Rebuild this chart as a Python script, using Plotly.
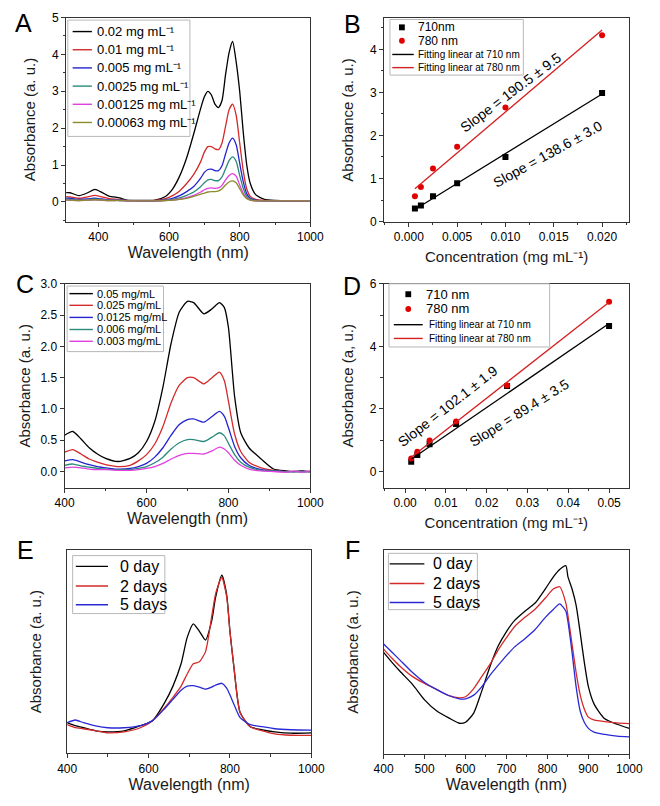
import plotly.graph_objects as go

FW, FH = 660, 806
FONT = "Liberation Sans, Arial, Helvetica, sans-serif"

# ---------------- Panel A: spectra at different concentrations ----------------
wl_a = [300, 320, 345, 370, 390, 410, 430, 460, 480, 520, 560, 590, 610, 630, 650, 670, 690, 700,
        710, 720, 730, 740, 750, 760, 770, 780, 790, 800, 810, 820, 830, 845, 870, 900, 950, 1000]
a_0p02 = [0.25, 0.25, 0.17, 0.25, 0.34, 0.26, 0.16, 0.11, 0.05, 0.04, 0.05, 0.15, 0.35, 0.70, 1.20, 1.85, 2.55, 2.85,
          3.00, 2.90, 2.65, 2.56, 2.75, 3.45, 4.05, 4.35, 3.80, 3.00, 1.90, 1.00, 0.50, 0.20, 0.07, 0.04, 0.03, 0.03]
a_0p01 = [0.15, 0.14, 0.10, 0.14, 0.18, 0.14, 0.09, 0.07, 0.04, 0.03, 0.04, 0.09, 0.17, 0.30, 0.50, 0.75, 1.10, 1.35,
          1.50, 1.50, 1.44, 1.42, 1.60, 2.05, 2.50, 2.65, 2.35, 1.60, 0.85, 0.35, 0.15, 0.07, 0.04, 0.03, 0.03, 0.03]
a_0p005 = [0.10, 0.10, 0.07, 0.08, 0.10, 0.08, 0.06, 0.05, 0.04, 0.03, 0.03, 0.06, 0.10, 0.17, 0.28, 0.42, 0.65, 0.80,
           0.88, 0.89, 0.85, 0.85, 0.98, 1.30, 1.60, 1.73, 1.55, 1.05, 0.55, 0.22, 0.10, 0.05, 0.03, 0.03, 0.03, 0.03]
a_0p0025 = [0.07, 0.07, 0.05, 0.06, 0.08, 0.06, 0.05, 0.04, 0.04, 0.03, 0.03, 0.05, 0.07, 0.11, 0.18, 0.27, 0.42, 0.52,
            0.60, 0.61, 0.58, 0.58, 0.68, 0.90, 1.12, 1.22, 1.10, 0.72, 0.37, 0.15, 0.07, 0.04, 0.03, 0.03, 0.03, 0.03]
a_0p00125 = [0.05, 0.05, 0.04, 0.05, 0.06, 0.05, 0.04, 0.04, 0.03, 0.03, 0.03, 0.04, 0.05, 0.08, 0.12, 0.18, 0.27, 0.33,
             0.37, 0.38, 0.37, 0.38, 0.45, 0.60, 0.72, 0.77, 0.70, 0.46, 0.24, 0.10, 0.05, 0.03, 0.03, 0.03, 0.03, 0.03]
a_0p00063 = [0.05, 0.05, 0.04, 0.05, 0.06, 0.05, 0.04, 0.04, 0.03, 0.03, 0.03, 0.04, 0.05, 0.07, 0.10, 0.15, 0.21, 0.24,
             0.27, 0.28, 0.28, 0.30, 0.36, 0.46, 0.54, 0.57, 0.52, 0.36, 0.19, 0.09, 0.05, 0.03, 0.03, 0.03, 0.03, 0.03]
a_series = [a_0p02, a_0p01, a_0p005, a_0p0025, a_0p00125, a_0p00063]
a_labels = ["0.02 mg mL⁻¹", "0.01 mg mL⁻¹", "0.005 mg mL⁻¹",
            "0.0025 mg mL⁻¹", "0.00125 mg mL⁻¹", "0.00063 mg mL⁻¹"]
a_colors = ["#000000", "#d42a2a", "#2424d0", "#2a8a7c", "#e040e0", "#8c8c2c"]

# ---------------- Panel B: linear fits ----------------
b_conc = [0.00063, 0.00125, 0.0025, 0.005, 0.01, 0.02]
b_abs710 = [0.30, 0.37, 0.585, 0.89, 1.50, 2.99]
b_abs780 = [0.585, 0.80, 1.23, 1.74, 2.65, 4.33]
b_slope = [138.6, 190.5]
b_intercept = [0.193, 0.64]
b_slope_err = [3.0, 9.5]

# ---------------- Panel C: spectra ----------------
wl_c = [400, 420, 440, 460, 480, 500, 530, 560, 580, 600, 620, 640, 660, 680, 700, 715, 740, 760, 778, 790,
        800, 815, 830, 850, 880, 910, 940, 960, 980, 1000]
c_0p05 = [0.58, 0.64, 0.52, 0.38, 0.28, 0.21, 0.16, 0.21, 0.30, 0.48, 0.80, 1.35, 2.05, 2.55, 2.72, 2.70, 2.52, 2.60, 2.70, 2.62,
          2.30, 1.20, 0.62, 0.38, 0.20, 0.04, 0.01, 0.00, 0.01, 0.00]
c_0p025 = [0.31, 0.35, 0.28, 0.20, 0.15, 0.11, 0.08, 0.10, 0.17, 0.27, 0.44, 0.72, 1.10, 1.38, 1.50, 1.50, 1.40, 1.50, 1.59, 1.45,
           1.12, 0.60, 0.32, 0.15, 0.06, 0.02, 0.00, 0.00, 0.00, 0.00]
c_0p0125 = [0.17, 0.19, 0.15, 0.11, 0.08, 0.06, 0.04, 0.05, 0.08, 0.13, 0.23, 0.38, 0.58, 0.75, 0.83, 0.84, 0.79, 0.88, 0.96, 0.88,
            0.70, 0.40, 0.22, 0.10, 0.03, 0.01, 0.00, 0.00, 0.00, 0.00]
c_0p006 = [0.10, 0.12, 0.09, 0.07, 0.05, 0.04, 0.03, 0.03, 0.05, 0.08, 0.14, 0.23, 0.36, 0.46, 0.51, 0.51, 0.48, 0.55, 0.62, 0.57,
           0.45, 0.27, 0.15, 0.07, 0.02, 0.01, 0.00, 0.00, 0.00, 0.00]
c_0p003 = [0.06, 0.07, 0.06, 0.04, 0.03, 0.03, 0.02, 0.02, 0.03, 0.05, 0.08, 0.13, 0.20, 0.26, 0.29, 0.29, 0.28, 0.33, 0.39, 0.36,
           0.30, 0.18, 0.10, 0.04, 0.01, 0.00, -0.01, 0.01, -0.01, 0.01]
c_series = [c_0p05, c_0p025, c_0p0125, c_0p006, c_0p003]
c_labels = ["0.05 mg/mL", "0.025 mg/mL", "0.0125 mg/mL", "0.006 mg/mL", "0.003 mg/mL"]
c_colors = ["#000000", "#d42a2a", "#2424d0", "#2a8a7c", "#e040e0"]

# ---------------- Panel D: linear fits ----------------
d_conc = [0.0015, 0.003, 0.006, 0.0125, 0.025, 0.05]
d_abs710 = [0.31, 0.53, 0.87, 1.52, 2.73, 4.65]
d_abs780 = [0.42, 0.63, 0.99, 1.60, 2.75, 5.43]
d_slope = [89.4, 102.1]
d_intercept = [0.26, 0.305]
d_slope_err = [3.5, 1.9]

# ---------------- Panel E: stability ----------------
wl_e = [400, 420, 440, 470, 500, 540, 580, 610, 640, 660, 680, 695, 710, 725, 740, 755, 765, 780, 792, 800,
        810, 825, 850, 880, 910, 950, 1000]
e_day0 = [0.150, 0.135, 0.125, 0.110, 0.105, 0.110, 0.135, 0.160, 0.250, 0.330, 0.440, 0.570, 0.637, 0.600, 0.557, 0.650, 0.770,
          0.876, 0.780, 0.600, 0.420, 0.200, 0.130, 0.115, 0.105, 0.098, 0.100]
e_day2 = [0.140, 0.125, 0.120, 0.110, 0.100, 0.105, 0.125, 0.160, 0.225, 0.275, 0.330, 0.390, 0.440, 0.450, 0.500, 0.670, 0.787,
          0.865, 0.770, 0.600, 0.420, 0.200, 0.130, 0.110, 0.095, 0.088, 0.087]
e_day5 = [0.150, 0.163, 0.150, 0.134, 0.125, 0.125, 0.135, 0.160, 0.220, 0.265, 0.310, 0.330, 0.332, 0.325, 0.315, 0.325, 0.335,
          0.344, 0.320, 0.287, 0.240, 0.175, 0.140, 0.130, 0.120, 0.115, 0.113]

# ---------------- Panel F: stability ----------------
wl_f = [400, 420, 440, 470, 500, 530, 560, 585, 600, 620, 640, 660, 680, 700, 720, 745, 770, 795, 815, 830,
        845, 850, 860, 870, 880, 890, 900, 915, 940, 970, 1000]
f_day0 = [0.498, 0.450, 0.405, 0.342, 0.265, 0.210, 0.175, 0.150, 0.155, 0.200, 0.310, 0.430, 0.530, 0.600, 0.655, 0.700, 0.740,
          0.810, 0.870, 0.905, 0.923, 0.870, 0.810, 0.730, 0.595, 0.450, 0.330, 0.240, 0.172, 0.145, 0.125]
f_day2 = [0.514, 0.470, 0.430, 0.380, 0.345, 0.315, 0.285, 0.275, 0.280, 0.320, 0.380, 0.440, 0.510, 0.570, 0.625, 0.670, 0.710,
          0.765, 0.810, 0.820, 0.740, 0.680, 0.540, 0.400, 0.289, 0.220, 0.180, 0.165, 0.158, 0.152, 0.148]
f_day5 = [0.539, 0.500, 0.460, 0.400, 0.350, 0.315, 0.285, 0.270, 0.270, 0.288, 0.330, 0.386, 0.435, 0.482, 0.525, 0.565, 0.610,
          0.670, 0.710, 0.736, 0.700, 0.650, 0.500, 0.330, 0.210, 0.155, 0.125, 0.105, 0.095, 0.087, 0.083]
ef_labels = ["0 day", "2 days", "5 days"]
ef_colors = ["#000000", "#d42a2a", "#2a2ad4"]


def px(x):
    return x / FW


def py(y):
    return 1 - y / FH


fig = go.Figure()

LW = 1.3
for ys, col, lab in zip(a_series, a_colors, a_labels):
    fig.add_trace(go.Scatter(x=wl_a, y=ys, mode="lines", name=lab, line=dict(color=col, width=LW, shape="spline", smoothing=0.6),
                             xaxis="x", yaxis="y", showlegend=False))

fig.add_trace(go.Scatter(x=b_conc, y=b_abs710, mode="markers", name="710nm", marker=dict(symbol="square", size=6, color="black"),
                         xaxis="x2", yaxis="y2", showlegend=False))
fig.add_trace(go.Scatter(x=b_conc, y=b_abs780, mode="markers", name="780 nm", marker=dict(symbol="circle", size=6, color="#e00000"),
                         xaxis="x2", yaxis="y2", showlegend=False))
for s, b0, col, nm in zip(b_slope, b_intercept, ["black", "#d42020"], ["710", "780"]):
    xs = [min(b_conc), max(b_conc)]
    fig.add_trace(go.Scatter(x=xs, y=[s * v + b0 for v in xs], mode="lines", name="Fitting linear at %s nm" % nm,
                             line=dict(color=col, width=1.3), xaxis="x2", yaxis="y2", showlegend=False))

for ys, col, lab in zip(c_series, c_colors, c_labels):
    fig.add_trace(go.Scatter(x=wl_c, y=ys, mode="lines", name=lab, line=dict(color=col, width=LW, shape="spline", smoothing=0.6),
                             xaxis="x3", yaxis="y3", showlegend=False))

fig.add_trace(go.Scatter(x=d_conc, y=d_abs710, mode="markers", name="710 nm", marker=dict(symbol="square", size=6, color="black"),
                         xaxis="x4", yaxis="y4", showlegend=False))
fig.add_trace(go.Scatter(x=d_conc, y=d_abs780, mode="markers", name="780 nm", marker=dict(symbol="circle", size=6, color="#e00000"),
                         xaxis="x4", yaxis="y4", showlegend=False))
for s, b0, col, nm in zip(d_slope, d_intercept, ["black", "#d42020"], ["710", "780"]):
    xs = [min(d_conc), max(d_conc)]
    fig.add_trace(go.Scatter(x=xs, y=[s * v + b0 for v in xs], mode="lines", name="Fitting linear at %s nm" % nm,
                             line=dict(color=col, width=1.3), xaxis="x4", yaxis="y4", showlegend=False))

for ys, col, lab in zip([e_day0, e_day2, e_day5], ef_colors, ef_labels):
    fig.add_trace(go.Scatter(x=wl_e, y=ys, mode="lines", name=lab, line=dict(color=col, width=LW, shape="spline", smoothing=0.6),
                             xaxis="x5", yaxis="y5", showlegend=False))
for ys, col, lab in zip([f_day0, f_day2, f_day5], ef_colors, ef_labels):
    fig.add_trace(go.Scatter(x=wl_f, y=ys, mode="lines", name=lab, line=dict(color=col, width=LW, shape="spline", smoothing=0.6),
                             xaxis="x6", yaxis="y6", showlegend=False))

AX = "#333333"
TC = "#1a1a1a"


def axis(dom, rng, title="", tsize=15, standoff=6, dtick=None, minor=None, fmt=None, anchor=None, labels=True):
    d = dict(domain=dom, range=rng, showline=True, linecolor=AX, linewidth=1.2, mirror=True,
             ticks="outside" if labels else "", ticklen=4, tickwidth=1, tickcolor=AX, showgrid=False, zeroline=False,
             showticklabels=labels, tickfont=dict(family=FONT, size=12, color="black"),
             title=dict(text=title, font=dict(family=FONT, size=tsize, color=TC), standoff=standoff),
             anchor=anchor)
    if dtick is not None:
        d["dtick"] = dtick
        d["tick0"] = 0
    if minor is not None:
        d["minor"] = dict(dtick=minor, tick0=0, ticks="outside", ticklen=2.5, tickcolor=AX, showgrid=False)
    if fmt:
        d["tickformat"] = fmt
    return d


def dx(a, b):
    return [a / FW, b / FW]


def dy(top, bottom):
    return [1 - bottom / FH, 1 - top / FH]


WL = "Wavelength (nm)"
AB = "Absorbance (a. u.)"
CONC = "Concentration (mg mL⁻¹)"

fig.update_layout(
    width=FW, height=FH, margin=dict(l=0, r=0, t=0, b=0),
    paper_bgcolor="white", plot_bgcolor="white", font=dict(family=FONT, color="black"),
    showlegend=False,
    xaxis=axis(dx(58.3, 311.7), [309, 1000], WL, 16, 3, 200, 100, anchor="y"),
    yaxis=axis(dy(10.7, 218.3), [-0.53, 5.0], AB, 15, 12, 1, 0.5, anchor="x"),
    xaxis2=axis(dx(388.3, 642.5), [-0.00255, 0.0228], CONC, 15, 8, 0.005, 0.0025, ".3f", anchor="y2"),
    yaxis2=axis(dy(11.7, 218.3), [0, 4.72], AB, 15, 12, 1, 0.5, anchor="x2"),
    xaxis3=axis(dx(56.7, 311.7), [400, 1000], WL, 16, 3, 200, 100, anchor="y3"),
    yaxis3=axis(dy(281.7, 489.3), [-0.26, 3.0], AB, 15, 6, 0.5, None, ".1f", anchor="x3"),
    xaxis4=axis(dx(388.0, 642.0), [-0.0052, 0.0548], CONC, 15, 8, 0.01, 0.005, ".2f", anchor="y4"),
    yaxis4=axis(dy(281.7, 489.3), [-0.52, 6.0], "Absorbance (a, u.)", 15, 12, 2, 1, anchor="x4"),
    xaxis5=axis(dx(59.3, 312.7), [400, 1000], WL, 16, 3, 200, 100, anchor="y5"),
    yaxis5=axis(dy(552.7, 759.3), [0, 1], AB, 15, 20, labels=False, anchor="x5"),
    xaxis6=axis(dx(387.7, 642.7), [400, 1000], WL, 16, 3, 100, 50, anchor="y6"),
    yaxis6=axis(dy(552.7, 760.0), [0, 1], AB, 15, 20, labels=False, anchor="x6"),
)

shapes = []
annotations = []


def box(x0, y0, x1, y1):
    shapes.append(dict(type="rect", xref="paper", yref="paper", x0=px(x0), x1=px(x1), y0=py(y1), y1=py(y0),
                       line=dict(color="#b8b8b8", width=1), fillcolor="white", layer="above"))


def text(x, y, s, size, anchor="left", color="black"):
    annotations.append(dict(x=px(x), y=py(y), xref="paper", yref="paper", text=s, showarrow=False, xanchor=anchor,
                            yanchor="middle", font=dict(family=FONT, size=size, color=color)))


def line_item(x0, x1, y, color, tx, s, size):
    shapes.append(dict(type="line", xref="paper", yref="paper", x0=px(x0), x1=px(x1), y0=py(y), y1=py(y),
                       line=dict(color=color, width=1.4), layer="above"))
    text(tx, y, s, size)


def marker_item(xc, y, color, symbol, tx, s, size, r=3):
    shapes.append(dict(type="rect" if symbol == "square" else "circle", xref="paper", yref="paper",
                       x0=px(xc - r), x1=px(xc + r), y0=py(y + r), y1=py(y - r),
                       line=dict(color=color, width=0), fillcolor=color, layer="above"))
    text(tx, y, s, size)


# Legend A
box(60, 13.3, 186.7, 131.7)
for i, (lab, col) in enumerate(zip(a_labels, a_colors)):
    line_item(65, 85, 25 + i * 18.5, col, 88.3, lab, 13)

# Legend B
box(394.3, 12.7, 532.7, 69.3)
marker_item(406.7, 20.7, "black", "square", 421.7, "710nm", 12)
marker_item(406.7, 34.3, "#e00000", "circle", 421.7, "780 nm", 12)
line_item(396.7, 419, 48.3, "black", 421.7, "Fitting linear at 710 nm", 10)
line_item(396.7, 419, 61.7, "#d42020", 421.7, "Fitting linear at 780 nm", 10)

# Legend C
box(59.3, 284, 159.3, 350.7)
for yy, lab, col in zip([291.7, 303.6, 315.9, 328.2, 340.2], c_labels, c_colors):
    line_item(61.7, 86, yy, col, 88.3, lab, 11)

# Legend D
box(393.3, 281.7, 560, 346)
marker_item(413.3, 292.3, "black", "square", 430, "710 nm", 13)
marker_item(413.3, 307.3, "#e00000", "circle", 430, "780 nm", 13)
line_item(398.3, 428.3, 323.3, "black", 432.7, "Fitting linear at 710 nm", 10)
line_item(398.3, 428.3, 337.3, "#d42020", 432.7, "Fitting linear at 780 nm", 10)

# Legend E
box(65, 558.3, 160.7, 617.3)
for yy, lab, col in zip([569.3, 589.3, 608.3], ef_labels, ef_colors):
    line_item(68.3, 101.7, yy, col, 111.7, lab, 16)

# Legend F
box(392.7, 556, 485, 613.3)
for yy, lab, col in zip([566.7, 586.7, 606], ef_labels, ef_colors):
    line_item(394, 430, yy, col, 437.3, lab, 16)

# Panel letters
for lt, x, y in [("A", 14, 16.5), ("B", 355, 17.5), ("C", 16, 281.5), ("D", 355, 283.5), ("E", 16.5, 552.5), ("F", 355.5, 553)]:
    text(x, y, lt, 25, anchor="center")

# Slope annotations (data coordinates)
slope_notes = [
    ("x2", "y2", 0.0106, 3.0, -37, "Slope = %.1f ± %.1f" % (b_slope[1], b_slope_err[1])),
    ("x2", "y2", 0.01438, 1.56, -29, "Slope = %.1f ± %.1f" % (b_slope[0], b_slope_err[0])),
    ("x4", "y4", 0.0105, 2.08, -38, "Slope = %.1f ± %.1f" % (d_slope[1], d_slope_err[1])),
    ("x4", "y4", 0.0278, 1.88, -32, "Slope = %.1f ± %.1f" % (d_slope[0], d_slope_err[0])),
]
for xr, yr, x, y, ang, s in slope_notes:
    annotations.append(dict(x=x, y=y, xref=xr, yref=yr, text=s, textangle=ang, showarrow=False,
                            font=dict(family=FONT, size=14, color="black")))

fig.update_layout(shapes=shapes, annotations=annotations)
fig.write_html("out.html", config={"displayModeBar": False},
               post_script="document.body.style.margin='0px';")
